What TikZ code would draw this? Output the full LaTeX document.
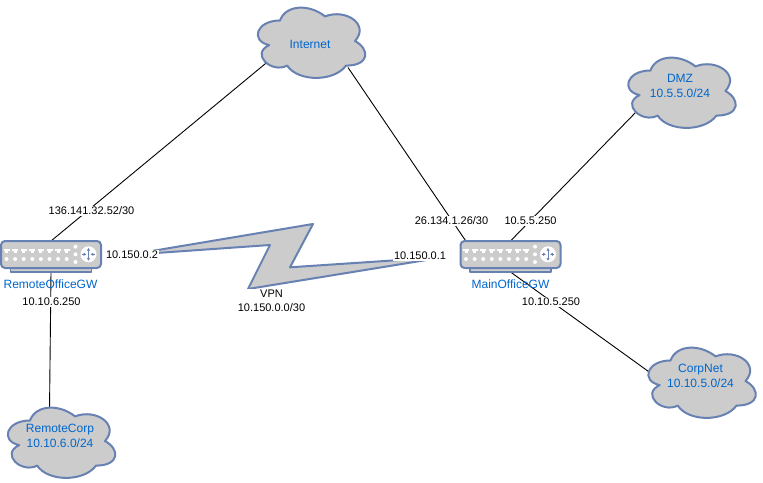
\documentclass[tikz,border=0pt]{standalone}
\usepackage{fontspec}
\setmainfont{Liberation Sans}
\usetikzlibrary{backgrounds,calc,arrows.meta}
\definecolor{shapefill}{HTML}{CCCCCC}
\definecolor{shapeline}{HTML}{6881B3}
\definecolor{labelblue}{HTML}{0066CC}
\tikzset{
  link/.style={draw=black,line width=0.9pt},
  shapeedge/.style={draw=shapeline,fill=shapefill,line width=2pt,line join=round},
  cloudbox/.style={minimum width=120pt,minimum height=82pt,inner sep=0pt,outer sep=0pt},
  bluetext/.style={text=labelblue,font=\fontsize{12}{15}\selectfont,align=center,inner sep=0pt},
  iplabel/.style={fill=white,text=black,font=\fontsize{11}{14}\selectfont,align=center,inner sep=1pt},
  routerbody/.style={shapeedge,rounded corners=4pt,minimum width=100pt,minimum height=27pt,inner sep=0pt,outer sep=0pt},
  routerbase/.style={shapeedge,line width=1.2pt,minimum width=81pt,minimum height=4pt,inner sep=0pt,outer sep=0pt},
  routerarrow/.style={shapeline,line width=0.8pt,-{Latex[length=2.8pt,width=3.4pt]}},
  routerdetail/.pic={
    \foreach \px in {6,14.6,23.2,31.8,40.4,49,57.6,66.2}{
      \fill[white] (\px-3,7.8) rectangle (\px+3,10.4);
      \fill[white] (\px-1.5,10.4) rectangle (\px+1.5,12);
      \fill[white] (\px,18) circle (2pt);
    }
    \foreach \py in {5.7,13.3,21}{\fill[white] (75,\py) circle (2pt);}
    \fill[white] (88,13.3) circle (8pt);
    \draw[routerarrow] (88,13.3) -- (88,6.8);
    \draw[routerarrow] (88,13.3) -- (88,19.8);
    \draw[routerarrow] (81.6,13.3) -- (86,13.3);
    \draw[routerarrow] (94.4,13.3) -- (90,13.3);
  }
}
\newcommand{\cloudat}[3]{% name, centre x, centre y
  \begin{scope}[shift={(#2-60,#3-41)},x=120pt,y=-82pt]
    \draw[shapeedge] (0.25,0.25)
      .. controls (0.05,0.25) and (0,0.5) .. (0.16,0.55)
      .. controls (0,0.66) and (0.18,0.9) .. (0.31,0.8)
      .. controls (0.4,1) and (0.7,1) .. (0.8,0.8)
      .. controls (1,0.8) and (1,0.6) .. (0.875,0.5)
      .. controls (1,0.3) and (0.8,0.1) .. (0.625,0.2)
      .. controls (0.5,0.05) and (0.3,0.05) .. (0.25,0.25) -- cycle;
  \end{scope}
  \node[cloudbox] (#1) at (#2,#3) {};
}
\newcommand{\routerat}[3]{% name, left x, top y
  \node[routerbase] (#1-base) at (#2+50.5,#3+29) {};
  \node[routerbody] (#1) at (#2+50.5,#3+13.5) {};
  \pic at (#2,#3) {routerdetail};
}
\begin{document}
\begin{tikzpicture}[x=1pt,y=-1pt]
  \useasboundingbox (0,0) rectangle (763,482);

  % lightning link
  \draw[shapeedge] (128,255) -- (313,224) -- (290,267.3) -- (445,257) -- (248,289) -- (270,245) -- cycle;

  % clouds
  \cloudat{internet}{310}{41}
  \cloudat{dmz}{680.4}{91}
  \cloudat{corpnet}{700.5}{381}
  \cloudat{remotecorp}{60}{441}
  \node[bluetext] (internet-t) at (310,44) {Internet};
  \node[bluetext] (dmz-t) at (680,85.5) {DMZ\\10.5.5.0/24};
  \node[bluetext] (corpnet-t) at (700.5,375.5) {CorpNet\\10.10.5.0/24};
  \node[bluetext] (remotecorp-t) at (60,435.5) {RemoteCorp\\10.10.6.0/24};

  % routers
  \routerat{remote}{0.5}{241}
  \routerat{main}{460}{241}
  \node[bluetext] (remote-t) at (50.5,284) {RemoteOfficeGW};
  \node[bluetext] (main-t) at (510.5,284) {MainOfficeGW};

  % connector ends on the clouds
  \coordinate (internet-a) at (268,61.5);
  \coordinate (internet-b) at (348,67.5);
  \coordinate (dmz-a) at (637,111);
  \coordinate (corpnet-a) at (651,373.3);
  \coordinate (remotecorp-a) at (49.5,411);

  \begin{scope}[on background layer]
    \fill[white] (0,0) rectangle (763,482);
    \draw[link] (remote.north) -- (internet-a);
    \draw[link] ($(main.north west)+(6,1)$) -- (internet-b);
    \draw[link] (main.north) -- (dmz-a);
    \draw[link] (main-base.south) -- (corpnet-a);
    \draw[link] (remote-base.south) -- (remotecorp-a);
  \end{scope}

  % address labels
  \node[iplabel] (l1) at (91.5,211) {136.141.32.52/30};
  \node[iplabel] (l2) at (51.5,302) {10.10.6.250};
  \node[iplabel] (l3) at (132,255) {10.150.0.2};
  \node[iplabel] (l4) at (420,256) {10.150.0.1};
  \node[iplabel] (l5) at (451.5,221) {26.134.1.26/30};
  \node[iplabel] (l6) at (530.5,221) {10.5.5.250};
  \node[iplabel] (l7) at (551,302) {10.10.5.250};
  \node[iplabel] (l8) at (271.5,301) {VPN\\10.150.0.0/30};
\end{tikzpicture}
\end{document}
